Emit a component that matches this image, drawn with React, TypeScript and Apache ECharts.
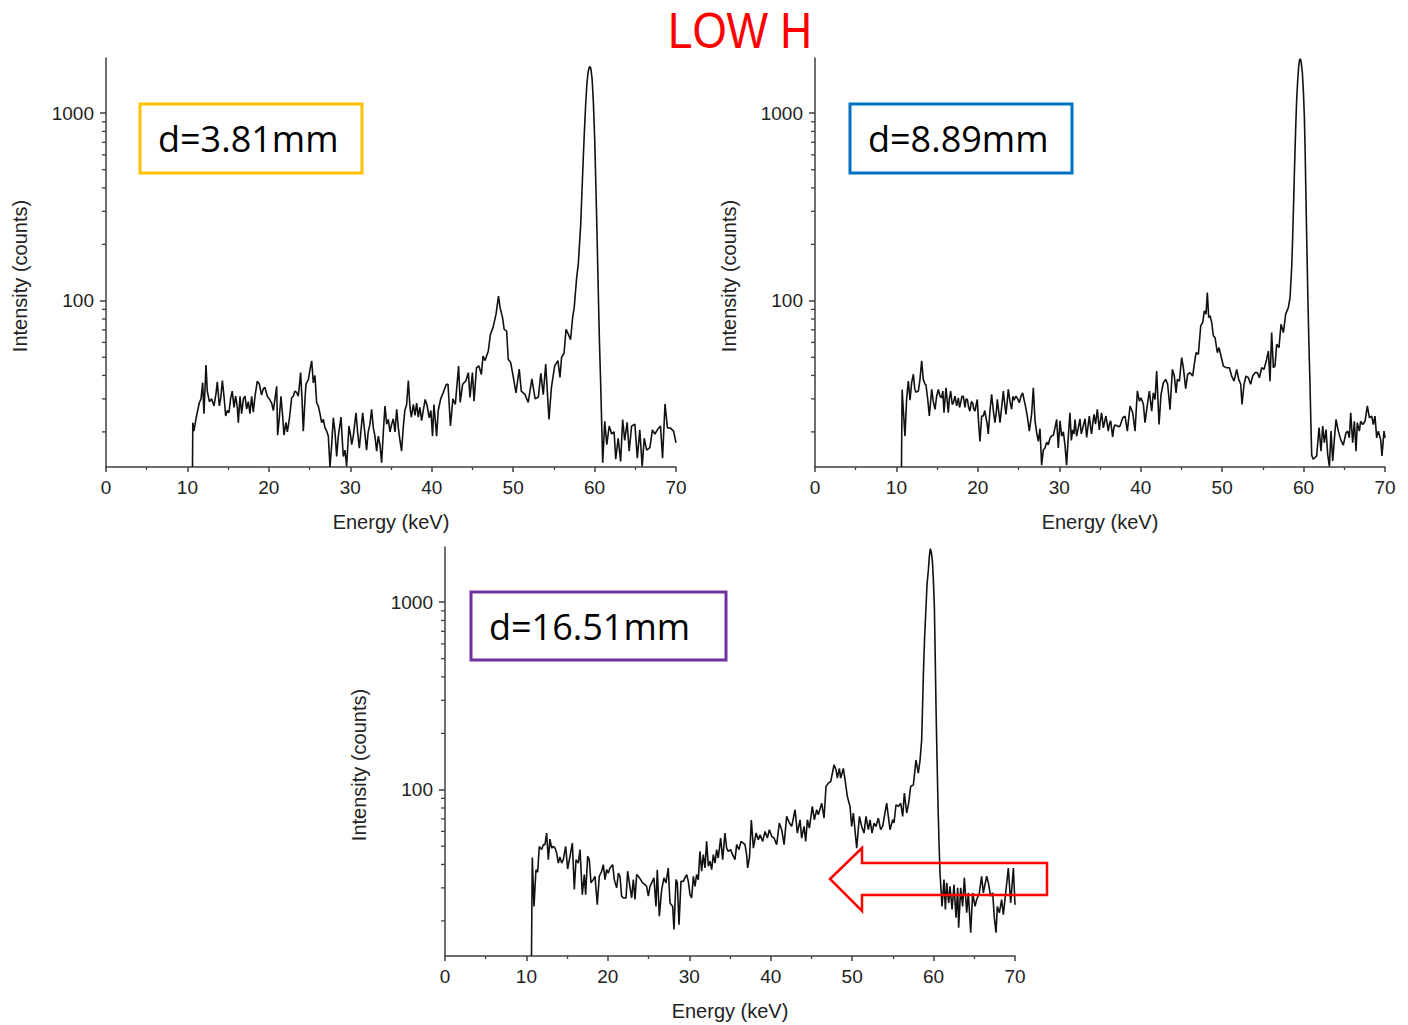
import React, { useEffect, useRef } from "react";
import * as echarts from "echarts";

// ---------- data ----------
const titleText = "LOW H";
const boxLabels = ["d=3.81mm", "d=8.89mm", "d=16.51mm"];
const xAxisName = "Energy (keV)";
const yAxisName = "Intensity (counts)";
const yLabelValues = [100, 1000];
const yMinorTicks = [20, 30, 40, 50, 60, 70, 80, 90, 200, 300, 400, 500, 600, 700, 800, 900];
const X_MIN = 0;
const X_MAX = 70;
const X_INTERVAL = 10;
const Y_MIN = 13;
const Y_MAX = 1970;

// d = 3.81 mm  [energy keV, counts]
const spectrum1: [number, number][] = [
  [10.62,13],[10.66,22.4],[10.8,20.2],[11.05,23.5],[11.46,28.6],[11.67,30],[11.87,36.6],[12.03,25],[12.28,45.5],[12.44,33],
  [12.69,29],[12.98,30],[13.26,27.5],[13.51,32],[13.67,37],[13.92,27.5],[14.08,30],[14.29,37.6],[14.49,31],[14.7,24.3],
  [14.9,26],[15.1,25.3],[15.3,30],[15.5,33],[15.72,27],[15.92,31],[16.13,27],[16.25,22.4],[16.46,31],[16.66,25],
  [16.87,30],[17.07,31],[17.27,26.5],[17.48,29],[17.68,25],[17.89,31],[18.09,25.5],[18.3,31],[18.58,37.3],[18.83,36],
  [19.1,31.5],[19.32,34],[19.52,34.5],[19.81,31],[20.06,30],[20.34,28.5],[20.55,26],[20.96,35],[21.08,19.2],[21.29,24],
  [21.49,31],[21.7,24],[21.86,19.2],[22.1,22.5],[22.27,20],[22.51,23.3],[22.8,30.4],[23.0,31],[23.2,33],[23.4,32.5],
  [23.62,31],[23.9,41.4],[24.07,30],[24.23,20.2],[24.44,30],[24.56,36],[24.85,38],[25.05,43],[25.26,47.8],[25.46,36.5],
  [25.66,40],[25.87,28.6],[26.07,27.5],[26.28,25],[26.48,22.4],[26.69,23.3],[26.9,21],[27.1,20.2],[27.3,19],[27.51,13],
  [27.71,17],[27.92,23.8],[28.12,20],[28.33,14.8],[28.53,19],[28.86,24],[29.02,18],[29.14,14.8],[29.35,16],[29.55,13.1],
  [29.84,21.5],[30.05,19],[30.17,17.1],[30.37,19],[30.7,25.3],[30.9,20],[31.11,16.4],[31.3,20],[31.52,25.3],[31.72,21],
  [32.0,16],[32.2,20],[32.42,22],[32.62,26.4],[32.83,21],[33.03,19],[33.24,15.8],[33.44,19],[33.65,17],[33.85,13.7],
  [34.06,20],[34.26,27.5],[34.47,22],[34.67,23.3],[34.88,20],[35.08,22],[35.28,23.5],[35.49,20],[35.7,26.4],[35.9,21],
  [36.1,18],[36.3,15.8],[36.5,21],[36.7,26],[36.92,28],[37.13,37.6],[37.33,27],[37.5,24],[37.74,28],[37.95,24.5],
  [38.15,28.5],[38.35,24],[38.55,27],[38.76,23],[38.96,26],[39.2,29.8],[39.4,28],[39.7,23.8],[39.9,26],[40.1,19],
  [40.27,28],[40.6,19],[40.8,26],[41.1,30],[41.4,32.3],[41.8,35.9],[42.0,35.9],[42.3,21.5],[42.6,30],[42.9,28],
  [43.3,44.9],[43.5,28.7],[43.8,35.9],[44.2,37.5],[44.5,41.4],[44.7,30.5],[45.0,41.4],[45.2,29.2],[45.5,44],[45.8,44.9],
  [46.1,40.5],[46.3,50.8],[46.55,48],[46.95,54],[47.2,66],[47.55,72.6],[47.9,84.9],[48.2,106],[48.4,92],[48.7,81.4],
  [48.9,70.5],[49.2,69],[49.4,48.8],[49.7,46.8],[50.0,39.7],[50.35,32.3],[50.75,43.3],[51.0,33],[51.45,31.7],[51.85,28.7],
  [52.3,38.3],[52.7,30],[53.1,30.7],[53.4,41],[53.7,31.6],[54.0,46],[54.4,23.3],[54.7,34.4],[55.1,45],[55.5,48],
  [55.75,39],[55.95,50],[56.25,52.5],[56.5,70.5],[56.8,66],[57.05,62],[57.3,81],[57.5,92],[57.8,133],[58.0,157],
  [58.15,200],[58.3,257],[58.45,380],[58.6,560],[58.75,800],[58.9,1100],[59.05,1420],[59.2,1650],[59.35,1760],[59.45,1770],
  [59.55,1720],[59.7,1520],[59.85,1150],[60.0,760],[60.15,430],[60.3,230],[60.45,115],[60.6,60],[60.75,36],[60.9,20],
  [61.0,13.7],[61.25,22.8],[61.5,17.1],[61.8,21.5],[62.1,19.5],[62.4,20],[62.6,14.3],[62.9,18.5],[63.2,13.9],[63.45,23.3],
  [63.7,18],[64.0,22.5],[64.25,15.8],[64.55,21.5],[64.95,22],[65.25,14.5],[65.55,20.5],[65.85,13.1],[66.1,18.5],[66.4,16],
  [66.8,16.5],[67.1,20.5],[67.4,19.5],[67.8,20.8],[68.1,21.5],[68.35,14.5],[68.65,28.2],[68.95,21],[69.3,21],[69.7,20.2],
  [70.0,17.5],
];

// d = 8.89 mm
const spectrum2: [number, number][] = [
  [10.62,13],[10.7,33.6],[10.85,26],[11.05,19],[11.25,30],[11.46,37.3],[11.67,29.5],[11.87,36.6],[12.08,40.6],[12.25,34],
  [12.4,32.5],[12.69,33],[12.89,38],[13.1,47.8],[13.3,38],[13.5,36],[13.63,35.5],[13.84,30],[14.04,24.3],[14.2,29],
  [14.33,33.7],[14.53,29],[14.74,26.4],[14.94,31],[15.15,33.7],[15.35,31],[15.55,30.4],[15.7,33],[15.84,25.3],[16.09,34.4],
  [16.37,25.3],[16.5,30],[16.66,33],[16.85,28],[16.99,28.6],[17.19,31],[17.4,27.5],[17.6,30.4],[17.75,27],[17.89,28.6],
  [18.05,31],[18.21,31],[18.42,27],[18.55,30],[18.71,29.8],[18.87,27],[19.03,25.8],[19.2,29],[19.36,28.6],[19.5,26.5],
  [19.65,25.8],[19.8,28],[19.93,29.8],[20.1,22],[20.26,17.8],[20.47,24.3],[20.67,24.3],[20.85,26],[21.0,23.8],[21.15,22],
  [21.28,19.5],[21.49,26],[21.69,31.7],[21.9,26],[22.1,22.4],[22.25,25],[22.39,29.8],[22.55,26],[22.72,22.4],[22.92,27],
  [23.13,33],[23.3,28],[23.45,24.8],[23.6,29],[23.74,33.7],[23.95,29],[24.15,26.4],[24.3,31],[24.44,29.5],[24.68,31],
  [24.9,30],[25.09,28.6],[25.3,31],[25.5,32.3],[25.65,30],[25.79,28.2],[26.07,24.3],[26.32,20.2],[26.61,25],[26.81,34.4],
  [27.02,23],[27.22,19.8],[27.43,17.8],[27.63,20.8],[27.83,13.3],[28.04,16],[28.24,16.4],[28.45,17.6],[28.65,17.1],[28.86,18.5],
  [29.06,19],[29.27,19.2],[29.47,21],[29.68,23.3],[29.88,16.4],[30.09,22.9],[30.29,19],[30.5,20],[30.7,17],[30.9,13.3],
  [31.11,19],[31.31,25.3],[31.48,18],[31.64,20.5],[31.8,19.5],[31.93,23.3],[32.13,19],[32.34,21],[32.54,23.5],[32.7,19.5],
  [32.83,20.5],[33.0,22],[33.16,23.5],[33.36,18.7],[33.5,21],[33.69,24.3],[33.85,21],[33.97,19.5],[34.1,22],[34.26,24.8],
  [34.45,22],[34.67,26.4],[34.92,20.5],[35.05,23],[35.2,25.3],[35.41,21],[35.6,23],[35.73,24.3],[36.02,20.2],[36.15,22],
  [36.31,22.9],[36.55,18.8],[36.7,21],[36.84,21.8],[37.13,21.5],[37.3,21.3],[37.46,21.5],[37.79,23.8],[38.07,24.3],[38.36,20.2],
  [38.69,27.5],[39.02,25.3],[39.3,20.2],[39.59,33.1],[39.83,29.2],[40.04,30.4],[40.33,28],[40.53,22.4],[40.82,28],[41.06,33],
  [41.35,25.8],[41.55,32.3],[41.76,29.8],[41.96,42.2],[42.25,21.9],[42.49,31.5],[42.78,36.6],[43.07,38.1],[43.31,35.9],[43.6,26.3],
  [43.89,43.1],[44.13,39.7],[44.34,32.3],[44.5,38.1],[44.75,37.3],[45.03,49.8],[45.24,44],[45.52,34],[45.77,40.6],[46.06,41.4],
  [46.38,39.7],[46.55,44.9],[46.79,52.9],[47.08,51.9],[47.37,73.5],[47.61,76.6],[47.82,88.4],[48.02,84.9],[48.18,110.8],[48.35,81.4],
  [48.51,83.2],[48.72,76.6],[48.92,65.1],[49.13,63.6],[49.41,52.9],[49.62,56.3],[49.86,50.8],[50.15,44.9],[50.48,44],[50.89,44],
  [51.17,39.7],[51.46,37.3],[51.79,43.1],[52.03,38.1],[52.28,35.9],[52.44,28],[52.69,35.9],[52.93,39.7],[53.22,38.9],[53.5,35.9],
  [53.75,39.7],[54.04,41.4],[54.32,41.4],[54.57,38.9],[54.86,44],[55.14,43.1],[55.47,48.8],[55.68,54],[55.88,37.3],[56.08,67.7],
  [56.29,44],[56.49,44.9],[56.7,58.7],[56.98,56.3],[57.23,75],[57.52,67.7],[57.8,84.9],[58.13,92],[58.34,104.2],[58.54,150],
  [58.65,210],[58.75,303],[58.85,440],[58.95,634],[59.05,880],[59.15,1174],[59.28,1500],[59.4,1769],[59.5,1920],[59.6,1950],
  [59.7,1880],[59.85,1650],[59.98,1300],[60.1,955],[60.2,600],[60.3,343],[60.4,200],[60.5,120],[60.65,60],[60.79,35.9],
  [60.9,22],[61.0,15],[61.2,14.3],[61.41,14.6],[61.61,14.9],[61.9,21.1],[62.14,15.8],[62.35,21.5],[62.55,17.5],[62.76,20.6],
  [62.96,15.2],[63.17,13.1],[63.37,20.2],[63.58,14],[63.78,18.2],[63.98,23.3],[64.27,20.2],[64.56,18.2],[64.88,17],[65.21,19.8],
  [65.42,20.2],[65.62,18.6],[65.79,25.3],[66.03,17.5],[66.24,22.8],[66.44,15.8],[66.6,22.4],[66.85,20.2],[67.01,22.8],[67.26,21.9],
  [67.55,22.8],[67.83,27.5],[68.08,23.8],[68.37,24.3],[68.57,21.9],[68.77,24.3],[68.98,18.6],[69.18,20.2],[69.47,18.2],[69.63,14.9],
  [69.88,20.2],[70.0,18.6],
];

// d = 16.51 mm
const spectrum3: [number, number][] = [
  [10.62,13],[10.72,43.5],[10.93,23.9],[11.17,37.5],[11.38,36.4],[11.58,49.9],[11.87,48],[12.08,51],[12.28,51],[12.48,58.8],
  [12.69,42.4],[12.89,54.6],[13.1,48.9],[13.3,49.9],[13.51,48.9],[13.71,46],[13.92,40.7],[14.12,43.9],[14.33,40.7],[14.53,42.4],
  [14.82,49.9],[15.06,37.8],[15.35,44.2],[15.64,52],[15.88,29.4],[16.09,42.4],[16.37,40.7],[16.58,48],[16.86,27.6],[17.11,35.3],
  [17.27,27.6],[17.52,44.2],[17.72,42.4],[17.93,31.9],[18.21,33.2],[18.42,34.6],[18.7,24.4],[18.95,34.6],[19.24,36.8],[19.44,39.9],
  [19.65,33.2],[19.85,37.5],[20.06,36],[20.26,38.3],[20.59,39.9],[20.79,33.2],[21.08,30],[21.29,36],[21.49,34.6],[21.69,27.1],
  [21.9,26.5],[22.23,26.5],[22.43,36.8],[22.64,31.9],[22.92,26.5],[23.13,33.2],[23.33,26],[23.54,35.3],[23.74,34.6],[24.03,33.2],
  [24.27,31.9],[24.56,31.2],[24.76,30.6],[24.97,27.1],[25.17,30.6],[25.38,31.9],[25.66,33.9],[25.91,23.9],[26.07,37.5],[26.32,21.2],
  [26.61,29.4],[26.89,33.9],[27.14,31.9],[27.42,38.3],[27.63,24.9],[27.96,23.9],[28.12,18],[28.37,33.2],[28.53,31.9],[28.74,19.1],
  [28.98,32.5],[29.27,32.5],[29.47,33.9],[29.68,35.3],[29.88,32.5],[30.09,27.6],[30.29,26.5],[30.5,34.6],[30.7,30.6],[30.9,35.3],
  [31.11,33.2],[31.31,47],[31.52,36.8],[31.72,45.1],[31.93,38.3],[32.13,53.1],[32.34,39.1],[32.54,41.6],[32.75,37.5],[32.95,45.1],
  [33.16,40.7],[33.36,48],[33.56,43.3],[33.85,55.3],[34.1,42.4],[34.38,58.8],[34.59,48.9],[34.79,47],[35.08,48],[35.32,45.1],
  [35.61,42.4],[35.82,51],[36.1,48],[36.35,53.1],[36.63,52],[36.84,51],[37.04,45.1],[37.17,38.3],[37.4,44],[37.62,69],
  [37.87,48.9],[38.2,58.8],[38.48,54.2],[38.69,57.6],[39.02,53.1],[39.3,60],[39.59,55.3],[39.83,61.3],[40.12,56.5],[40.41,55.3],
  [40.73,51],[41.06,66.5],[41.35,61.3],[41.64,51],[41.96,72.2],[42.29,66.5],[42.58,63.8],[42.99,78.3],[43.27,58.8],[43.6,69.2],
  [43.8,55.3],[44.09,63.8],[44.3,53.1],[44.5,69.2],[44.75,62.5],[45.11,81.5],[45.36,69.2],[45.65,78.3],[45.85,73.6],[46.26,84.9],
  [46.55,70.7],[46.79,104.2],[47.08,108.5],[47.37,110.7],[47.78,136],[48.02,128],[48.18,115.4],[48.43,130],[48.59,115.4],[48.92,130],
  [49.13,113],[49.41,92.1],[49.74,81.5],[49.94,63.8],[50.15,75.2],[50.56,48.9],[50.89,72.2],[51.17,63.8],[51.46,58.8],[51.7,72.2],
  [51.99,61.3],[52.2,69.2],[52.44,58.8],[52.69,66.5],[52.93,63.8],[53.22,70.7],[53.5,61.3],[53.75,63.8],[54.24,84.9],[54.65,61.3],
  [54.98,69.2],[55.14,66.5],[55.39,83.2],[55.68,81.5],[55.96,84.9],[56.21,72.2],[56.41,96],[56.7,75.2],[56.94,84.9],[57.19,104.2],
  [57.52,106.3],[57.84,144],[58.13,122.7],[58.34,144],[58.54,184.5],[58.65,280],[58.75,417],[58.9,650],[59.07,944],[59.2,1250],
  [59.36,1480],[59.48,1750],[59.6,1930],[59.72,1850],[59.85,1673],[59.98,1300],[60.1,944],[60.2,520],[60.3,277],[60.42,150],
  [60.55,81.5],[60.67,52],[60.79,36],[61.04,23.9],[61.28,33.2],[61.45,23],[61.61,31.9],[61.86,24.9],[62.02,30.6],[62.27,23],
  [62.51,31.2],[62.76,20.8],[62.96,30],[63.08,18.4],[63.33,30],[63.57,23.9],[63.78,33.9],[64.07,22.1],[64.27,28.2],[64.56,17.3],
  [64.8,28.2],[65.09,23.9],[65.3,26],[65.62,28.2],[65.9,34.6],[66.11,28.2],[66.52,34.6],[66.73,31.9],[67.01,27.1],[67.26,28.2],
  [67.46,20.8],[67.67,17.3],[67.83,23.9],[68.08,22.1],[68.36,26],[68.57,21.6],[68.77,26],[69.18,38.3],[69.47,24.9],[69.8,38.3],
  [70.0,24.4],
];

const spectra = [spectrum1, spectrum2, spectrum3];

// ---------- layout / style ----------
const grids = [
  { left: 106, top: 58, width: 570, height: 409 },
  { left: 815, top: 58, width: 570, height: 409 },
  { left: 445, top: 547, width: 570, height: 409 },
];
const boxes = [
  { x: 140, y: 104, w: 222, h: 69, color: "#FFC000", tx: 158 },
  { x: 850, y: 104, w: 222, h: 69, color: "#0070C0", tx: 868 },
  { x: 471, y: 592, w: 255, h: 68, color: "#7030A0", tx: 489 },
];
const AXIS_COLOR = "#3f3f3f";
const TEXT_COLOR = "#222";
const AXIS_FONT = "Liberation Sans";
const BOX_FONT = "Open Sans";
const TITLE_FONT = "Liberation Sans";

export default function App() {
  const ref = useRef<HTMLDivElement>(null);

  useEffect(() => {
    if (!ref.current) return;
    const chart = echarts.init(ref.current, undefined, { renderer: "svg" });

    const labelFmt = (v: number) => {
      for (const t of yLabelValues) if (Math.abs(v - t) < t * 0.01) return String(t);
      return "";
    };

    const option: any = {
      animation: false,
      backgroundColor: "#ffffff",
      grid: grids.map((g) => ({ ...g, containLabel: false })),
      xAxis: grids.map((_, i) => ({
        type: "value",
        gridIndex: i,
        min: X_MIN,
        max: X_MAX,
        interval: X_INTERVAL,
        axisLine: { show: true, onZero: false, lineStyle: { color: AXIS_COLOR, width: 1.5 } },
        axisTick: { show: true, length: 5, lineStyle: { color: AXIS_COLOR, width: 1.5 } },
        minorTick: { show: true, splitNumber: 2, length: 3, lineStyle: { color: AXIS_COLOR, width: 1.3 } },
        splitLine: { show: false },
        minorSplitLine: { show: false },
        axisLabel: { color: TEXT_COLOR, fontSize: 19, fontFamily: AXIS_FONT, margin: 11 },
        name: xAxisName,
        nameLocation: "middle",
        nameGap: 45,
        nameTextStyle: { color: TEXT_COLOR, fontSize: 20, fontFamily: AXIS_FONT },
      })),
      yAxis: grids.map((_, i) => ({
        type: "log",
        logBase: 10,
        gridIndex: i,
        min: Y_MIN,
        max: Y_MAX,
        axisLine: { show: true, onZero: false, lineStyle: { color: AXIS_COLOR, width: 1.5 } },
        axisTick: { show: true, length: 6, lineStyle: { color: AXIS_COLOR, width: 1.5 } },
        splitLine: { show: false },
        axisLabel: {
          color: TEXT_COLOR,
          fontSize: 19,
          fontFamily: AXIS_FONT,
          margin: 12,
          formatter: labelFmt,
          showMinLabel: false,
          showMaxLabel: false,
        },
        name: yAxisName,
        nameLocation: "middle",
        nameRotate: 90,
        nameGap: 76,
        nameTextStyle: {
          color: TEXT_COLOR,
          fontSize: 20,
          fontFamily: AXIS_FONT,
          padding: [0, 27, 0, 0],
        },
      })),
      series: [
        ...spectra.map((d, i) => ({
          type: "line",
          xAxisIndex: i,
          yAxisIndex: i,
          data: d,
          showSymbol: false,
          symbol: "none",
          clip: true,
          lineStyle: { color: "#111", width: 1.6 },
          z: 3,
          silent: true,
        })),
        ...grids.map((_, i) => ({
          type: "custom",
          xAxisIndex: i,
          yAxisIndex: i,
          silent: true,
          data: yMinorTicks.map((v) => [X_MIN, v]),
          renderItem: (_params: any, api: any) => {
            const p = api.coord([X_MIN, api.value(1)]);
            return {
              type: "line",
              shape: { x1: p[0] - 4, y1: p[1], x2: p[0], y2: p[1] },
              style: { stroke: AXIS_COLOR, lineWidth: 1.3 },
            };
          },
          z: 2,
        })),
      ],
      graphic: [
        {
          type: "text",
          x: 740,
          y: 30,
          scaleX: 0.88,
          style: {
            text: titleText,
            fill: "#FF0000",
            fontSize: 50,
            fontFamily: TITLE_FONT,
            align: "center",
            verticalAlign: "middle",
          },
        },
        ...boxes.map((b) => ({
          type: "rect",
          shape: { x: b.x, y: b.y, width: b.w, height: b.h },
          style: { fill: "#ffffff", stroke: b.color, lineWidth: 3 },
          z: 10,
        })),
        ...boxes.map((b, i) => ({
          type: "text",
          x: b.tx,
          y: b.y + b.h / 2,
          style: {
            text: boxLabels[i],
            fill: "#000",
            fontSize: 36,
            fontFamily: BOX_FONT,
            align: "left",
            verticalAlign: "middle",
          },
          z: 11,
        })),
        {
          type: "polygon",
          shape: {
            points: [
              [830, 879], [862, 848], [862, 863], [1047, 863],
              [1047, 895], [862, 895], [862, 911],
            ],
          },
          style: { fill: "none", stroke: "#FF0000", lineWidth: 2.5 },
          z: 20,
        },
      ],
    };

    chart.setOption(option);
    return () => chart.dispose();
  }, []);

  return (
    <div
      ref={ref}
      style={{ position: "fixed", left: 0, top: 0, width: 1408, height: 1025, background: "#fff" }}
    />
  );
}
